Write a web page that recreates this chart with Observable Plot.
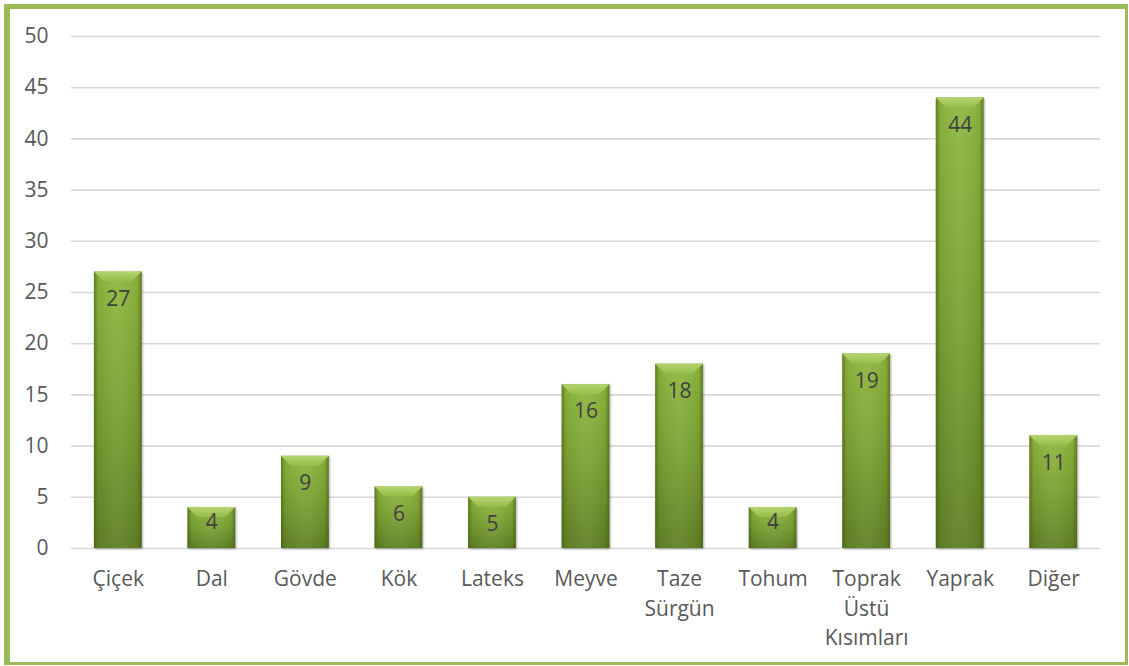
<!DOCTYPE html>
<html><head><meta charset="utf-8">
<script src="https://cdn.jsdelivr.net/npm/d3@7"></script>
<script src="https://cdn.jsdelivr.net/npm/@observablehq/plot@0.6"></script>
<style>
html,body{margin:0;padding:0;background:#fff;}
#wrap{position:relative;width:1129px;height:666px;overflow:hidden;}
#frame{position:absolute;left:4px;top:4px;right:1px;bottom:1px;border-left:6px solid #9bbb59;border-top:5px solid #9bbb59;border-right:3px solid #9bbb59;border-bottom:3px solid #9bbb59;box-sizing:border-box;pointer-events:none;}
#chart{position:absolute;left:0;top:0;}
</style></head>
<body><div id="wrap"><div id="chart"></div><div id="frame"></div></div>
<script>
const categories = ["Çiçek","Dal","Gövde","Kök","Lateks","Meyve","Taze\nSürgün","Tohum","Toprak\nÜstü\nKısımları","Yaprak","Diğer"];
const values = [27,4,9,6,5,16,18,4,19,44,11];
const yTicks = [0,5,10,15,20,25,30,35,40,45,50];

const data = categories.map((c,i)=>({cat:c, v:values[i]}));

const chart = Plot.plot({
  width:1129, height:666,
  marginLeft:71, marginRight:29, marginTop:36, marginBottom:118,
  style:{fontFamily:"'Open Sans', sans-serif", fontSize:"21px", color:"#595959", background:"transparent"},
  x:{domain:categories, paddingInner:0.49, paddingOuter:0.245, round:false, label:null},
  y:{domain:[0,50], ticks:yTicks, label:null},
  marks:[
    Plot.ruleY(yTicks,{stroke:"#d9d9d9", strokeWidth:1.6}),
    Plot.axisY({ticks:yTicks, tickSize:0, tickPadding:23, fontSize:21, fill:"#595959"}),
    Plot.axisX({tickSize:0, tickPadding:17, fontSize:21, fill:"#595959", lineHeight:1.4}),
    Plot.barY(data,{x:"cat", y:"v", fill:"url(#gv)", className:"bar"}),
    Plot.barY(data,{x:"cat", y:"v", fill:"url(#gh)", className:"barh"}),
    Plot.text(data,{filter:d=>d.v>=5, x:"cat", y:"v", text:d=>String(d.v), dy:27, fill:"#404040", fontSize:21}),
    Plot.text(data,{filter:d=>d.v<5, x:"cat", y:"v", text:d=>String(d.v), dy:15, fill:"#404040", fontSize:21})
  ]
});
document.getElementById("chart").appendChild(chart);

const svg = d3.select(chart);
const defs = svg.insert("defs",":first-child");
const gv = defs.append("linearGradient").attr("id","gv").attr("x1",0).attr("y1",0).attr("x2",0).attr("y2",1);
gv.append("stop").attr("offset","0%").attr("stop-color","#8fb83f");
gv.append("stop").attr("offset","50%").attr("stop-color","#7aa032");
gv.append("stop").attr("offset","100%").attr("stop-color","#5f7f24");
const gh = defs.append("linearGradient").attr("id","gh").attr("x1",0).attr("y1",0).attr("x2",1).attr("y2",0);
gh.append("stop").attr("offset","0%").attr("stop-color","#3f5614").attr("stop-opacity",0.6);
gh.append("stop").attr("offset","9%").attr("stop-color","#3f5614").attr("stop-opacity",0.1);
gh.append("stop").attr("offset","50%").attr("stop-color","#ffffff").attr("stop-opacity",0.06);
gh.append("stop").attr("offset","91%").attr("stop-color","#3f5614").attr("stop-opacity",0.1);
gh.append("stop").attr("offset","100%").attr("stop-color","#3f5614").attr("stop-opacity",0.6);
const gb = defs.append("linearGradient").attr("id","gb").attr("x1",0).attr("y1",0).attr("x2",0).attr("y2",1);
gb.append("stop").attr("offset","0%").attr("stop-color","#b5d470");
gb.append("stop").attr("offset","100%").attr("stop-color","#95bd47");

// bevel on top of each bar, derived from rendered bar rects
const barh = svg.select("g.barh");
barh.selectAll("rect").each(function(){
  const r = d3.select(this);
  const x = +r.attr("x"), y = +r.attr("y"), w = +r.attr("width"), h = +r.attr("height");
  const b = Math.min(10, h/2);
  barh.append("path")
    .attr("d",`M${x},${y}L${x+w},${y}L${x+w-b},${y+b}L${x+b},${y+b}Z`)
    .attr("fill","url(#gb)");
});
svg.select("g.bar").attr("filter","drop-shadow(1px 1px 1px rgba(0,0,0,0.35))");
svg.selectAll("g[aria-label='text']").raise();
</script></body></html>
